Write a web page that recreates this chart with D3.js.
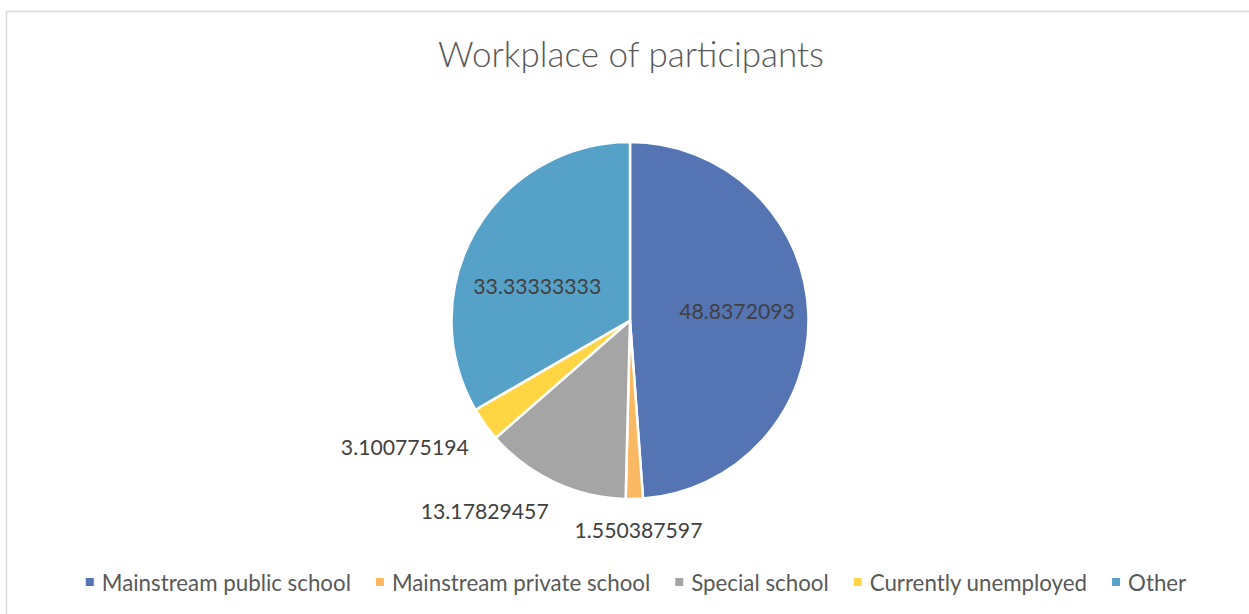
<!DOCTYPE html>
<html>
<head>
<meta charset="utf-8">
<script src="https://cdn.jsdelivr.net/npm/d3@7"></script>
<style>
  body { margin: 0; background: #fff; }
  svg { display: block; }
</style>
</head>
<body>
<script>
"use strict";

// chart data
const categories = ["Mainstream public school", "Mainstream private school", "Special school", "Currently unemployed", "Other"];
const values = [48.8372093, 1.550387597, 13.17829457, 3.100775194, 33.33333333];
const labels = ["48.8372093", "1.550387597", "13.17829457", "3.100775194", "33.33333333"];
const insideLabel = [true, false, false, false, true];
const sliceColors = ["#5574B4", "#FBB862", "#A5A5A5", "#FFD544", "#55A1C8"];
const title = "Workplace of participants";

const width = 1249, height = 614;
const cx = 630, cy = 320.5, radius = 178.5;

const svg = d3.select("body").append("svg")
    .attr("width", width)
    .attr("height", height);

// chart frame
svg.append("rect")
    .attr("x", 6.5)
    .attr("y", 11.5)
    .attr("width", width + 20)
    .attr("height", height + 20)
    .attr("fill", "#fff")
    .attr("stroke", "#d9d9d9")
    .attr("stroke-width", 1.5);

svg.append("text")
    .attr("x", 631)
    .attr("y", 67)
    .attr("text-anchor", "middle")
    .attr("font-family", "Lato")
    .attr("font-weight", 300)
    .attr("font-size", 35)
    .attr("fill", "#595959")
    .text(title);

const pie = d3.pie().sort(null).value(d => d);
const arcs = pie(values);
const arc = d3.arc().innerRadius(0).outerRadius(radius);

const g = svg.append("g").attr("transform", `translate(${cx},${cy})`);

g.selectAll(".slice")
    .data(arcs)
    .enter()
    .append("path")
    .attr("class", "slice")
    .attr("d", arc)
    .attr("fill", (d, i) => sliceColors[i])
    .attr("stroke", "#fff")
    .attr("stroke-width", 2.5)
    .attr("stroke-linejoin", "round");

// data labels
const fontSize = 21.2;
arcs.forEach(function(d, i) {
  const a = (d.startAngle + d.endAngle) / 2;
  const dx = Math.sin(a), dy = -Math.cos(a);
  const t = g.append("text")
      .attr("font-family", "Lato")
      .attr("font-size", fontSize)
      .attr("fill", "#404040")
      .attr("text-anchor", "middle")
      .attr("dominant-baseline", "central")
      .text(labels[i]);
  const w = t.node().getComputedTextLength();
  const h = 22;
  if (insideLabel[i]) {
    const r = radius * 0.6;
    t.attr("x", r * dx).attr("y", r * dy * 0.5 - 8);
  } else {
    const r = radius + 20;
    const kx = Math.max(-1, Math.min(1, dx * 2.5));
    const ky = Math.max(-1, Math.min(1, dy * 2.5));
    t.attr("x", r * dx + kx * w / 2 * (1 - 0.15 * Math.abs(dy - 0.6))).attr("y", r * dy + ky * h / 2);
  }
});

// legend
const legend = svg.append("g");
let lx = 0;
categories.forEach(function(c, i) {
  const it = legend.append("g");
  it.append("rect")
      .attr("x", lx)
      .attr("y", -4)
      .attr("width", 8)
      .attr("height", 8)
      .attr("fill", sliceColors[i]);
  const tx = it.append("text")
      .attr("x", lx + 16)
      .attr("y", 0)
      .attr("dominant-baseline", "central")
      .attr("font-family", "Lato")
      .attr("font-size", 22.3)
      .attr("fill", "#595959")
      .text(c);
  lx += 16 + tx.node().getComputedTextLength() + 25;
});
const legendW = lx - 25;
legend.attr("transform", `translate(${636 - legendW / 2},582)`);
</script>
</body>
</html>
